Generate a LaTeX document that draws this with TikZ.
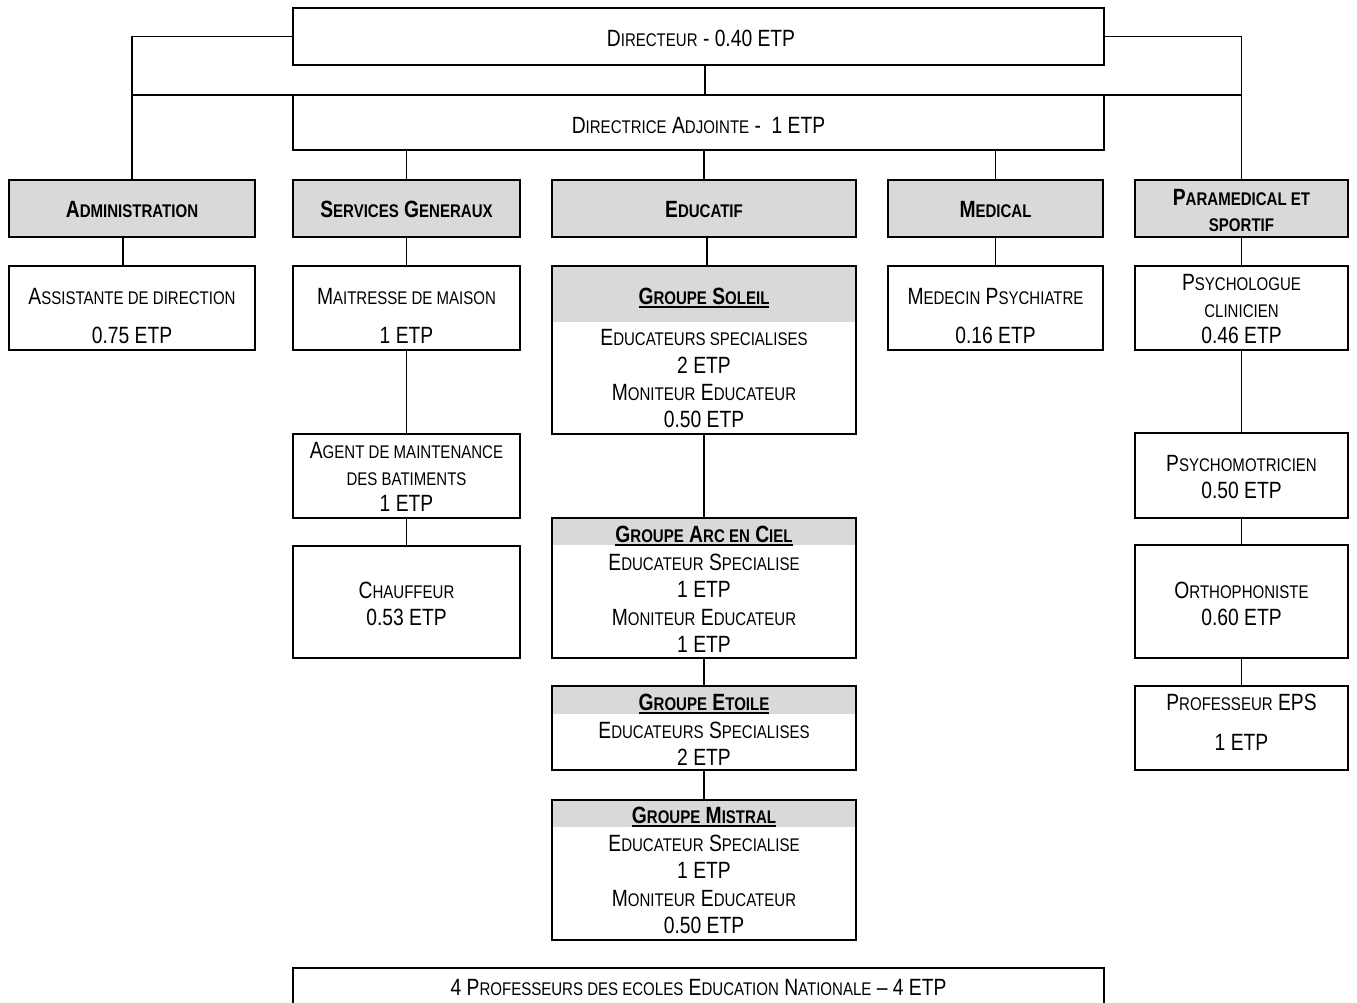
\documentclass[tikz,border=0pt]{standalone}
\usepackage{fontspec}
\setmainfont{Liberation Sans}[FakeStretch=0.82]
\usetikzlibrary{calc}
\makeatletter
\newcommand\sm[1]{{\fontsize{\fpeval{0.78*\f@size}}{0}\selectfont #1}}
\makeatother
\newcommand\ul[1]{\vtop{\hbox{#1}\kern1.6pt\hrule height 1.4pt}}
\definecolor{hdrgray}{HTML}{D9D9D9}
\newcommand\bx[6][]{\node[box,#1,minimum width={#4-#3},minimum height={#6-#5}] (#2) at ({(#3+#4)/2},{(#5+#6)/2}) {};}
\begin{document}
\begin{tikzpicture}[x=1pt,y=-1pt,
  box/.style={draw=black,line width=1.8pt,inner sep=0pt,outer sep=0pt},
  dept/.style={fill=hdrgray},
  hdr/.style={draw=none,fill=hdrgray},
  t/.style={anchor=base,inner sep=0pt,font=\fontsize{23.5}{27}\selectfont},
  tb/.style={anchor=base,inner sep=0pt,font=\bfseries\fontsize{23.5}{27}\selectfont},
  conn/.style={line width=1.8pt}]
\useasboundingbox (0,0) rectangle (1357,1002);
\clip (0,0) rectangle (1357,1002);
\fill[white] (0,0) rectangle (1357,1002);

% headers (grey bands)
\bx[hdr]{soleilh}{552}{856}{266}{322}
\bx[hdr]{arch}{552}{856}{518}{545}
\bx[hdr]{etoileh}{552}{856}{686}{714}
\bx[hdr]{mistralh}{552}{856}{800}{827}

% boxes
\bx{dir}{293}{1104}{8}{65}
\bx{adj}{293}{1104}{95}{150}
\bx[dept]{admin}{9}{255}{180}{237}
\bx[dept]{serv}{293}{520}{180}{237}
\bx[dept]{educ}{552}{856}{180}{237}
\bx[dept]{med}{888}{1103}{180}{237}
\bx[dept]{para}{1135}{1348}{180}{237}
\bx{asst}{9}{255}{266}{350}
\bx{mait}{293}{520}{266}{350}
\bx{soleil}{552}{856}{266}{434}
\bx{medecin}{888}{1103}{266}{350}
\bx{psylog}{1135}{1348}{266}{350}
\bx{agent}{293}{520}{434}{518}
\bx{chauf}{293}{520}{546}{658}
\bx{arc}{552}{856}{518}{658}
\bx{etoile}{552}{856}{686}{770}
\bx{mistral}{552}{856}{800}{940}
\bx{psymot}{1135}{1348}{433}{518}
\bx{ortho}{1135}{1348}{545}{658}
\bx{eps}{1135}{1348}{686}{770}
\bx{prof}{293}{1104}{968}{1040}

% connectors
\draw[conn] (dir.west) -| (admin.north);
\draw[conn] (dir.east) -| (para.north);
\draw[conn] ([xshift=6.5pt]dir.south) -- ([xshift=6.5pt]adj.north);
\draw[conn] (admin.north |- adj.north) -- (para.north |- adj.north);
\draw[conn] (serv.north |- adj.south) -- (serv.north);
\draw[conn] (educ.north |- adj.south) -- (educ.north);
\draw[conn] (med.north |- adj.south) -- (med.north);
\draw[conn] ([xshift=-9pt]admin.south) -- ([xshift=-9pt]asst.north);
\draw[conn] (serv.south) -- (mait.north);
\draw[conn] (mait.south) -- (agent.north);
\draw[conn] (agent.south) -- (chauf.north);
\draw[conn] ([xshift=3pt]educ.south) -- ([xshift=3pt]soleil.north);
\draw[conn] (soleil.south) -- (arc.north);
\draw[conn] (arc.south) -- (etoile.north);
\draw[conn] (etoile.south) -- (mistral.north);
\draw[conn] (med.south) -- (medecin.north);
\draw[conn] (para.south) -- (psylog.north);
\draw[conn] (psylog.south) -- (psymot.north);
\draw[conn] (psymot.south) -- (ortho.north);
\draw[conn] (ortho.south) -- (eps.north);

% texts
\node[t] (dirT) at (701,46.5) {D\sm{IRECTEUR} - 0.40 ETP};
\node[t] (adjT) at (698.5,133.5) {D\sm{IRECTRICE} A\sm{DJOINTE} -\ \ 1 ETP};
\node[tb] (adminT) at (132,217.4) {A\sm{DMINISTRATION}};
\node[tb] (servT) at (406.5,217.4) {S\sm{ERVICES} G\sm{ENERAUX}};
\node[tb] (educT) at (704,217.4) {E\sm{DUCATIF}};
\node[tb] (medT) at (995.5,217.4) {M\sm{EDICAL}};
\node[tb] (paraT1) at (1241.5,205.4) {P\sm{ARAMEDICAL ET}};
\node[tb] (paraT2) at (1241.5,231.4) {\sm{SPORTIF}};

\node[t] (asstT1) at (132,304.5) {A\sm{SSISTANTE DE DIRECTION}};
\node[t] (asstT2) at (132,343.5) {0.75 ETP};
\node[t] (maitT1) at (406.5,304.5) {M\sm{AITRESSE DE MAISON}};
\node[t] (maitT2) at (406.5,343.5) {1 ETP};
\node[t] (medecinT1) at (995.5,304.5) {M\sm{EDECIN} P\sm{SYCHIATRE}};
\node[t] (medecinT2) at (995.5,343.5) {0.16 ETP};
\node[t] (psylogT1) at (1241.5,290.5) {P\sm{SYCHOLOGUE}};
\node[t] (psylogT2) at (1241.5,317.5) {\sm{CLINICIEN}};
\node[t] (psylogT3) at (1241.5,343.5) {0.46 ETP};

\node[tb] (soleilT0) at (704,304.4) {\ul{G\sm{ROUPE} S\sm{OLEIL}}};
\node[t] (soleilT1) at (704,345.5) {E\sm{DUCATEURS SPECIALISES}};
\node[t] (soleilT2) at (704,373.5) {2 ETP};
\node[t] (soleilT3) at (704,400.5) {M\sm{ONITEUR} E\sm{DUCATEUR}};
\node[t] (soleilT4) at (704,427.5) {0.50 ETP};

\node[t] (agentT1) at (406.5,458.5) {A\sm{GENT DE MAINTENANCE}};
\node[t] (agentT2) at (406.5,485.5) {\sm{DES BATIMENTS}};
\node[t] (agentT3) at (406.5,511.5) {1 ETP};
\node[t] (chaufT1) at (406.5,598.5) {C\sm{HAUFFEUR}};
\node[t] (chaufT2) at (406.5,625.5) {0.53 ETP};

\node[tb] (arcT0) at (704,542.4) {\ul{G\sm{ROUPE} A\sm{RC EN} C\sm{IEL}}};
\node[t] (arcT1) at (704,570.5) {E\sm{DUCATEUR} S\sm{PECIALISE}};
\node[t] (arcT2) at (704,597.5) {1 ETP};
\node[t] (arcT3) at (704,625.5) {M\sm{ONITEUR} E\sm{DUCATEUR}};
\node[t] (arcT4) at (704,652.5) {1 ETP};

\node[tb] (etoileT0) at (704,710.4) {\ul{G\sm{ROUPE} E\sm{TOILE}}};
\node[t] (etoileT1) at (704,738.5) {E\sm{DUCATEURS} S\sm{PECIALISES}};
\node[t] (etoileT2) at (704,765.5) {2 ETP};

\node[tb] (mistralT0) at (704,823.4) {\ul{G\sm{ROUPE} M\sm{ISTRAL}}};
\node[t] (mistralT1) at (704,851.5) {E\sm{DUCATEUR} S\sm{PECIALISE}};
\node[t] (mistralT2) at (704,878.5) {1 ETP};
\node[t] (mistralT3) at (704,906.5) {M\sm{ONITEUR} E\sm{DUCATEUR}};
\node[t] (mistralT4) at (704,933.5) {0.50 ETP};

\node[t] (psymotT1) at (1241.5,471.5) {P\sm{SYCHOMOTRICIEN}};
\node[t] (psymotT2) at (1241.5,498.5) {0.50 ETP};
\node[t] (orthoT1) at (1241.5,598.5) {O\sm{RTHOPHONISTE}};
\node[t] (orthoT2) at (1241.5,625.5) {0.60 ETP};
\node[t] (epsT1) at (1241.5,710.5) {P\sm{ROFESSEUR} EPS};
\node[t] (epsT2) at (1241.5,750.5) {1 ETP};

\node[t] (profT) at (698.5,995.5) {4 P\sm{ROFESSEURS DES ECOLES} E\sm{DUCATION} N\sm{ATIONALE} -- 4 ETP};
\end{tikzpicture}
\end{document}
